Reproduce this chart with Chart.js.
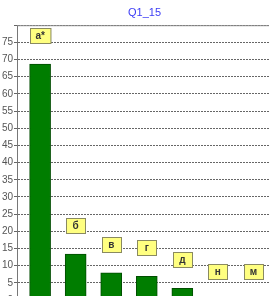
<!DOCTYPE html>
<html>
<head>
<meta charset="utf-8">
<script src="https://cdn.jsdelivr.net/npm/chart.js@4/dist/chart.umd.min.js"></script>
<style>
html,body{margin:0;padding:0;background:#fff;overflow:hidden;width:269px;height:296px;}
canvas{display:block;}
</style>
</head>
<body>
<canvas id="c" width="289" height="307"></canvas>
<script>
const categories = ['а*', 'б', 'в', 'г', 'д', 'н', 'м'];
const values = [68.7, 13.4, 7.9, 6.9, 3.4, 0, 0];
const yTicks = [0, 5, 10, 15, 20, 25, 30, 35, 40, 45, 50, 55, 60, 65, 70, 75];
const titleText = 'Q1_15';

const labelPlugin = {
  id: 'boxLabels',
  afterDatasetsDraw(chart) {
    const ctx = chart.ctx;
    const meta = chart.getDatasetMeta(0);
    ctx.save();
    ctx.font = 'bold 10px "Liberation Sans", Arial, sans-serif';
    ctx.textAlign = 'center';
    ctx.textBaseline = 'middle';
    meta.data.forEach((el, i) => {
      const txt = categories[i];
      const w = Math.max(19, ctx.measureText(txt).width + 11);
      const h = 15;
      const cx = el.x;
      const bottom = el.y - 21;
      const x0 = Math.round(cx - w / 2) + 0.5, y0 = Math.round(bottom - h) + 0.5;
      ctx.fillStyle = '#ffff80';
      ctx.strokeStyle = '#8a8a60';
      ctx.lineWidth = 1;
      ctx.fillRect(x0, y0, w, h);
      ctx.strokeRect(x0, y0, w, h);
      ctx.fillStyle = '#333';
      ctx.fillText(txt, cx, y0 + h / 2 + 0.5);
    });
    ctx.restore();
  },
  beforeDatasetsDraw(chart) {
    const ctx = chart.ctx;
    const a = chart.chartArea;
    ctx.save();
    ctx.strokeStyle = '#888';
    ctx.lineWidth = 1;
    ctx.beginPath();
    ctx.moveTo(a.left, a.top + 0.5);
    ctx.lineTo(a.right, a.top + 0.5);
    ctx.stroke();
    ctx.restore();
  }
};

new Chart(document.getElementById('c'), {
  type: 'bar',
  data: {
    datasets: [{
      data: values.map((v, i) => ({ x: i, y: v })),
      backgroundColor: '#007d00',
      borderColor: '#004d00',
      borderWidth: 1,
      borderSkipped: 'bottom',
      barThickness: 21
    }]
  },
  options: {
    responsive: false,
    animation: false,
    devicePixelRatio: 1,
    layout: { padding: 0 },
    plugins: {
      legend: { display: false },
      tooltip: { enabled: false },
      title: {
        display: true,
        text: titleText,
        color: '#3c3cf5',
        font: { family: '"Liberation Sans", Arial, sans-serif', size: 11, weight: 'normal' },
        padding: { top: 6, bottom: 6 }
      }
    },
    scales: {
      x: {
        type: 'linear',
        offset: false,
        min: -0.65,
        max: 7.0,
        display: false,
        grid: { offset: false }
      },
      y: {
        min: 0,
        max: 80,
        afterFit(scale) { scale.width = 17; },
        afterBuildTicks(scale) {
          scale.ticks = yTicks.concat([80]).map(v => ({ value: v }));
        },
        ticks: {
          color: '#555',
          padding: 1,
          font: { family: '"Liberation Sans", Arial, sans-serif', size: 10 },
          callback: (v) => (v === 80 ? '' : String(v))
        },
        grid: {
          color: '#666',
          lineWidth: 1,
          tickLength: 3,
          drawTicks: true
        },
        border: {
          display: true,
          color: '#777',
          dash: [2, 1]
        }
      }
    }
  },
  plugins: [labelPlugin]
});
</script>
</body>
</html>
